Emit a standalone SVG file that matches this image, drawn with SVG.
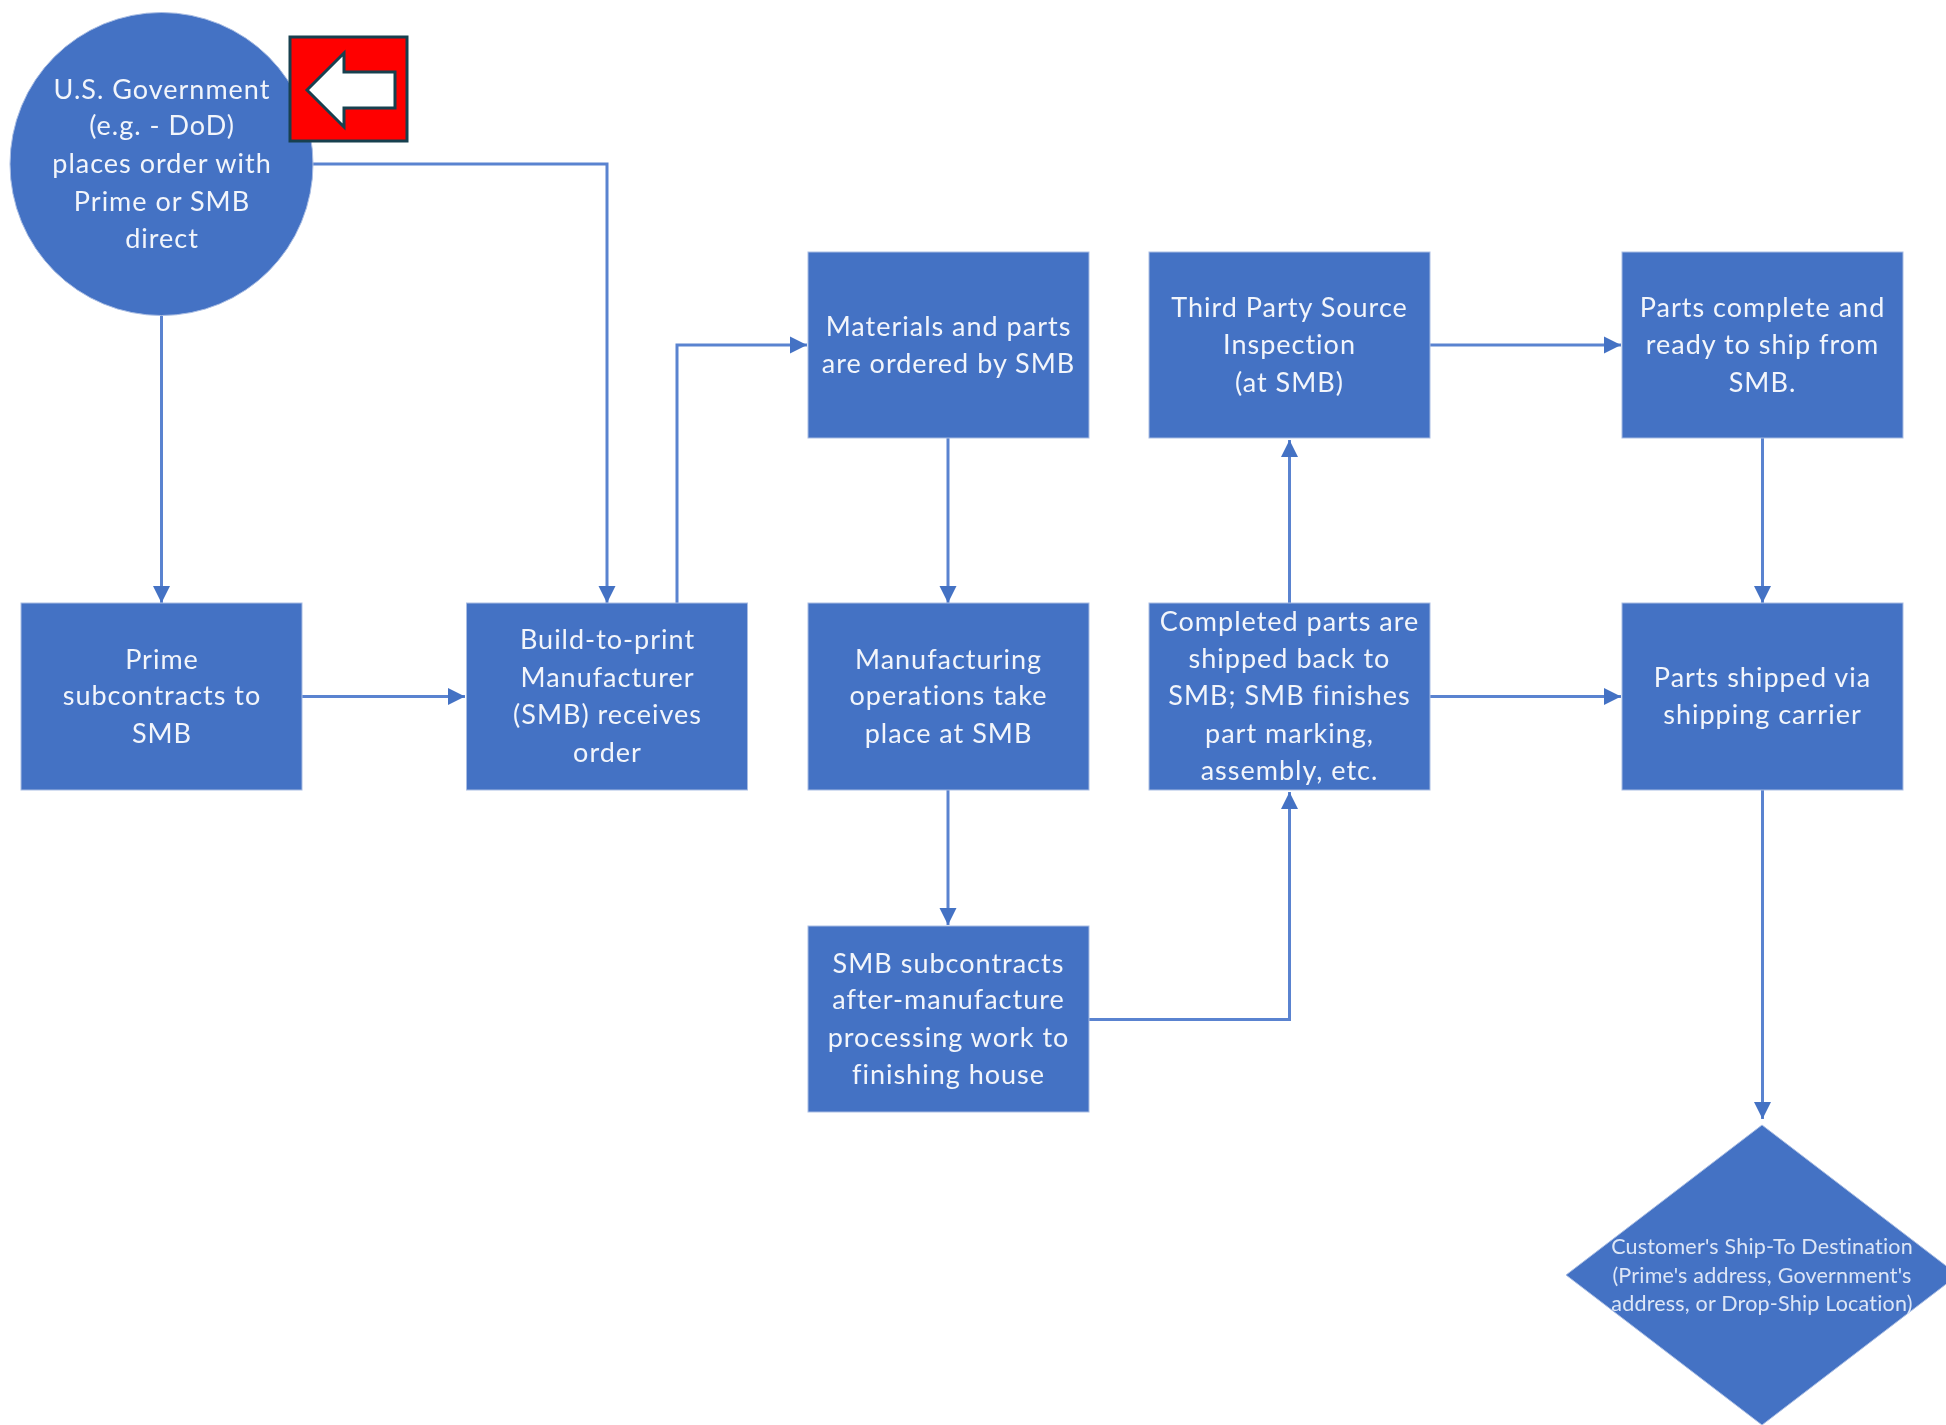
<svg xmlns="http://www.w3.org/2000/svg" width="1946" height="1425" viewBox="0 0 1946 1425">
<defs>
<marker id="ah" markerUnits="userSpaceOnUse" markerWidth="18" markerHeight="18" refX="17" refY="9" orient="auto"><path d="M0 0.500L17 9L0 17.500Z" fill="#4472c4"/></marker>
<filter id="soft" x="-5%" y="-20%" width="110%" height="140%"><feGaussianBlur stdDeviation="0.45"/></filter>
</defs>
<style>
.n{fill:#4472c4;stroke:#a9bde3;stroke-width:1}
.t{font-family:Lato,"Liberation Sans",sans-serif;font-size:27px;letter-spacing:1px;fill:#f2f5fb;text-anchor:middle;filter:url(#soft)}
.s{font-size:21.500px;letter-spacing:0.200px;fill:#dde6f6}
.c{fill:none;stroke:#5a83d0;stroke-width:3;marker-end:url(#ah)}
</style>
<rect width="1946" height="1425" fill="#fff"/>
<g id="connectors">
<path class="c" d="M161.500 315V603"/>
<path class="c" d="M313 164H607V603"/>
<path class="c" d="M302 696.500H465"/>
<path class="c" d="M677 603V345H807"/>
<path class="c" d="M948 438V603"/>
<path class="c" d="M948 790V925"/>
<path class="c" d="M1089 1019.500H1289.500V792"/>
<path class="c" d="M1289.500 603V440"/>
<path class="c" d="M1430 345H1621"/>
<path class="c" d="M1430 696.500H1621"/>
<path class="c" d="M1762.500 438V603"/>
<path class="c" d="M1762.500 790V1119"/>
</g>
<g id="n-gov"><circle class="n" cx="161.500" cy="164" r="151.500"/>
<text class="t" x="162" y="99">U.S. Government</text><text class="t" x="162" y="135">(e.g. - DoD)</text><text class="t" x="162" y="173">places order with</text><text class="t" x="162" y="210.500">Prime or SMB</text><text class="t" x="162" y="248">direct</text></g>
<g id="n-marker"><rect x="290" y="37" width="117" height="104" fill="#ff0000" stroke="#17404f" stroke-width="3"/>
<path d="M307 90L344 53V72H395V108H344V127Z" fill="#fff" stroke="#17404f" stroke-width="3"/></g>
<g id="n-prime"><rect class="n" x="21" y="603" width="281" height="187"/>
<text class="t" x="162" y="669">Prime</text><text class="t" x="162" y="705">subcontracts to</text><text class="t" x="162" y="742.500">SMB</text></g>
<g id="n-build"><rect class="n" x="466.500" y="603" width="281" height="187"/>
<text class="t" x="607.500" y="649">Build-to-print</text><text class="t" x="607.500" y="687">Manufacturer</text><text class="t" x="607.500" y="724">(SMB) receives</text><text class="t" x="607.500" y="762">order</text></g>
<g id="n-materials"><rect class="n" x="808" y="252" width="281" height="186"/>
<text class="t" x="948.500" y="336">Materials and parts</text><text class="t" x="948.500" y="373">are ordered by SMB</text></g>
<g id="n-third"><rect class="n" x="1149" y="252" width="281" height="186"/>
<text class="t" x="1289.500" y="317">Third Party Source</text><text class="t" x="1289.500" y="353.500">Inspection</text><text class="t" x="1289.500" y="391.500">(at SMB)</text></g>
<g id="n-ready"><rect class="n" x="1622" y="252" width="281" height="186"/>
<text class="t" x="1762.500" y="317">Parts complete and</text><text class="t" x="1762.500" y="353.500">ready to ship from</text><text class="t" x="1762.500" y="391.500">SMB.</text></g>
<g id="n-mfg"><rect class="n" x="808" y="603" width="281" height="187"/>
<text class="t" x="948.500" y="669">Manufacturing</text><text class="t" x="948.500" y="705">operations take</text><text class="t" x="948.500" y="742.500">place at SMB</text></g>
<g id="n-completed"><rect class="n" x="1149" y="603" width="281" height="187"/>
<text class="t" x="1289.500" y="631">Completed parts are</text><text class="t" x="1289.500" y="668">shipped back to</text><text class="t" x="1289.500" y="705">SMB; SMB finishes</text><text class="t" x="1289.500" y="742.500">part marking,</text><text class="t" x="1289.500" y="780">assembly, etc.</text></g>
<g id="n-shipped"><rect class="n" x="1622" y="603" width="281" height="187"/>
<text class="t" x="1762.500" y="687">Parts shipped via</text><text class="t" x="1762.500" y="724">shipping carrier</text></g>
<g id="n-sub"><rect class="n" x="808" y="926" width="281" height="186"/>
<text class="t" x="948.500" y="973">SMB subcontracts</text><text class="t" x="948.500" y="1009">after-manufacture</text><text class="t" x="948.500" y="1046.500">processing work to</text><text class="t" x="948.500" y="1084">finishing house</text></g>
<g id="n-dest"><path class="n" d="M1762 1125L1958 1275L1762 1425L1566 1275Z"/>
<text class="t s" x="1762" y="1254">Customer's Ship-To Destination</text><text class="t s" x="1762" y="1283">(Prime's address, Government's</text><text class="t s" x="1762" y="1310.500">address, or Drop-Ship Location)</text></g>
</svg>
